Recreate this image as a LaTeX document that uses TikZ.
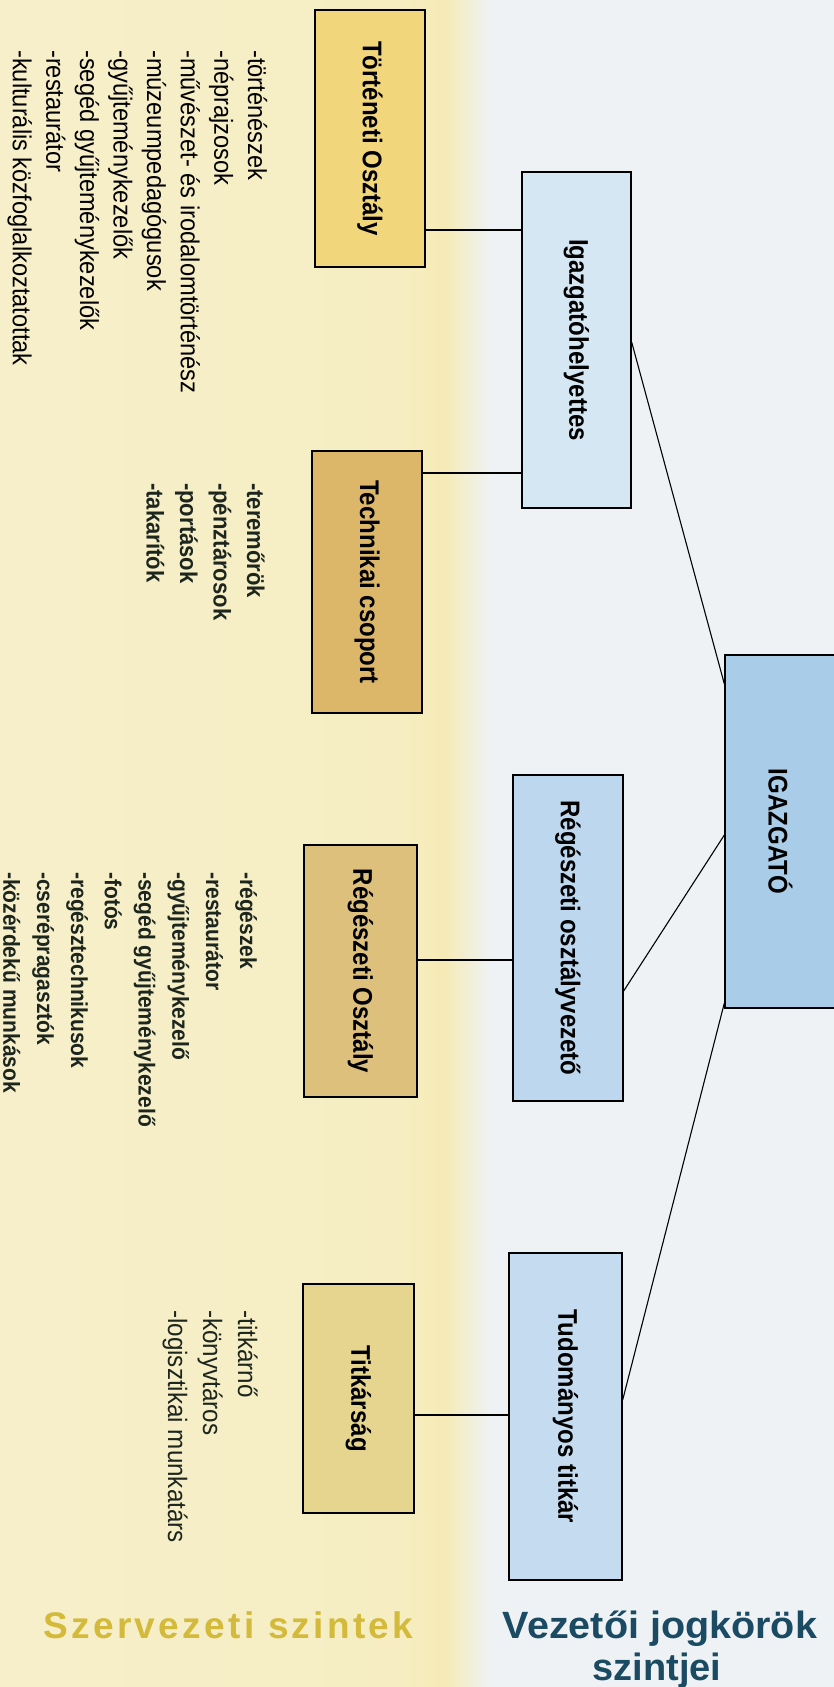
\documentclass[tikz,border=0pt]{standalone}
\usepackage{fontspec}
\setmainfont{Liberation Sans}
\usepackage{graphicx}
\usetikzlibrary{calc}
\definecolor{bgcream}{HTML}{F6EFCA}
\definecolor{bgyel}{HTML}{F6EBB6}
\definecolor{bgblue}{HTML}{EEF2F4}
\definecolor{histc}{HTML}{F1D67C}
\definecolor{techc}{HTML}{DCB76A}
\definecolor{regc}{HTML}{DCC07C}
\definecolor{titkc}{HTML}{E6D58F}
\definecolor{ighc}{HTML}{D6E7F4}
\definecolor{rovc}{HTML}{BCD7EE}
\definecolor{ttc}{HTML}{C5DCF0}
\definecolor{igc}{HTML}{A9CCE9}
\definecolor{goldc}{HTML}{D4BA3A}
\definecolor{tealc}{HTML}{1B4A63}
\definecolor{listc}{HTML}{1C261E}
\newcommand{\sqz}[1]{\scalebox{0.89}[1]{#1}}
\newcommand{\sqzl}[1]{\scalebox{0.91}[1]{#1}}
\begin{document}
\begin{tikzpicture}[x=1pt,y=-1pt,
  orgbox/.style={draw=black, line width=1.3pt, inner sep=0pt, font=\fontsize{27}{30}\selectfont\bfseries, text=black},
  conn/.style={draw=black, line width=1.1pt},
  listbase/.style={rotate=-90, anchor=base west, inner sep=0pt, text=listc},
  listreg/.style={listbase, font=\fontsize{26}{28}\selectfont},
  listbold/.style={listbase, font=\fontsize{24.2}{28}\selectfont\bfseries},
  listbolds/.style={listbase, font=\fontsize{23.1}{28}\selectfont\bfseries},
  listtit/.style={listbase, font=\fontsize{26.6}{28}\selectfont}
]
\useasboundingbox (0,0) rectangle (834,1687);
% background
\fill[bgblue] (0,0) rectangle (834,1687);
\shade[left color=bgcream, right color=bgcream!60!bgyel] (0,0) rectangle (400,1687);
\shade[left color=bgcream!60!bgyel, right color=bgyel] (400,0) rectangle (445,1687);
\shade[left color=bgyel, right color=bgblue] (445,0) rectangle (490,1687);

% boxes
\node[orgbox, fill=histc, minimum width=110pt, minimum height=257pt] (hist) at (370,138.5) {\rotatebox{-90}{\sqz{Történeti Osztály}}};
\node[orgbox, fill=techc, minimum width=110pt, minimum height=262pt] (tech) at (367,582) {\rotatebox{-90}{\sqz{Technikai csoport}}};
\node[orgbox, fill=regc, minimum width=113pt, minimum height=252pt] (reg) at (360.5,971) {\rotatebox{-90}{\sqz{Régészeti Osztály}}};
\node[orgbox, fill=titkc, minimum width=111pt, minimum height=229pt] (titk) at (358.5,1398.5) {\rotatebox{-90}{\sqz{Titkárság}}};
\node[orgbox, fill=ighc, minimum width=109pt, minimum height=336pt] (igh) at (576.5,340) {\rotatebox{-90}{\sqz{Igazgatóhelyettes}}};
\node[orgbox, fill=rovc, minimum width=110pt, minimum height=326pt] (rov) at (568,938) {\rotatebox{-90}{\sqz{Régészeti osztályvezető}}};
\node[orgbox, fill=ttc, minimum width=113pt, minimum height=327pt] (tt) at (565.5,1416.5) {\rotatebox{-90}{\sqz{Tudományos titkár}}};
\node[orgbox, fill=igc, minimum width=111pt, minimum height=353pt] (ig) at (780.5,831.5) {\rotatebox{-90}{\sqz{IGAZGATÓ}}};

% connector levels
\coordinate (y230) at (0,230);
\coordinate (y473) at (0,473);
\coordinate (y960) at (0,960);
\coordinate (y1415) at (0,1415);
\coordinate (y342) at (0,342);
\coordinate (y684) at (0,684);
\coordinate (y991) at (0,991);
\coordinate (y835) at (0,835);
\coordinate (y1003) at (0,1003);
\coordinate (y1400) at (0,1400);

\draw[conn] (hist.east |- y230) -- (igh.west |- y230);
\draw[conn] (tech.east |- y473) -- (igh.west |- y473);
\draw[conn] (reg.east |- y960) -- (rov.west |- y960);
\draw[conn] (titk.east |- y1415) -- (tt.west |- y1415);
\draw[conn] (igh.east |- y342) -- (ig.west |- y684);
\draw[conn] (rov.east |- y991) -- (ig.west |- y835);
\draw[conn] (ig.west |- y1003) -- (tt.east |- y1400);

% lists
\foreach \t [count=\i] in {-történészek,-néprajzosok,-művészet- és irodalomtörténész,-múzeumpedagógusok,-gyűjteménykezelők,-segéd gyűjteménykezelők,-restaurátor,-kulturális közfoglalkoztatottak}
  \node[listreg, text=black] (hl\i) at ({248-(\i-1)*33.6},50) {\sqzl{\t}};
\foreach \t [count=\i] in {-teremőrök,-pénztárosok,-portások,-takarítók}
  \node[listbold] (tl\i) at ({247-(\i-1)*33.5},483) {\sqzl{\t}};
\foreach \t [count=\i] in {-régészek,-restaurátor,-gyűjteménykezelő,-segéd gyűjteménykezelő,-fotós,-regésztechnikusok,-cserépragasztók,-közérdekű munkások}
  \node[listbolds] (rl\i) at ({240-(\i-1)*33.8},872) {\sqzl{\t}};
\foreach \t [count=\i] in {-titkárnő,-könyvtáros,-logisztikai munkatárs}
  \node[listtit] (sl\i) at ({238-(\i-1)*35},1310) {\sqzl{\t}};

% bottom labels
\node[anchor=base, inner sep=0pt, text=goldc, font=\fontsize{37}{41}\selectfont\bfseries\addfontfeatures{LetterSpace=9}] (lblA) at (228.5,1638) {Szervezeti szintek};
\node[anchor=base, inner sep=0pt, text=tealc, font=\fontsize{38}{41}\selectfont\bfseries] (lblB) at (660,1638) {\scalebox{1.04}[1]{Vezetői jogkörök}};
\node[anchor=base, inner sep=0pt, text=tealc, font=\fontsize{38}{41}\selectfont\bfseries] (lblC) at (657,1680) {szintjei};
\end{tikzpicture}
\end{document}
